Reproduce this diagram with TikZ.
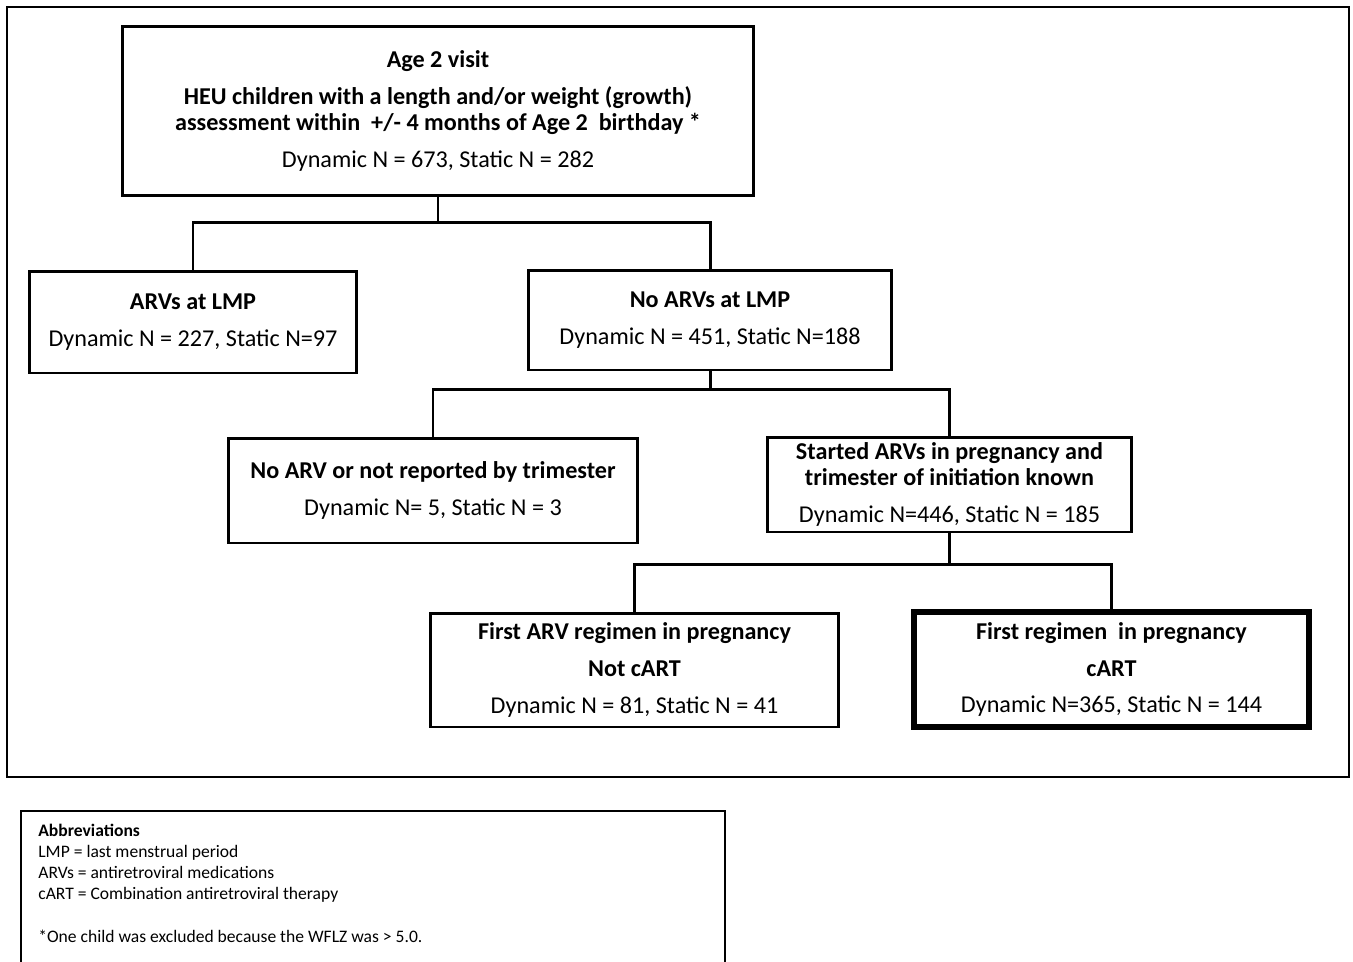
\documentclass[tikz,border=0pt]{standalone}
\usepackage{fontspec}
\setmainfont{Carlito}

\tikzset{
  flowbox/.style={draw, line width=1.7pt, align=center, inner sep=0pt,
    font=\fontsize{13.75}{14.8}\selectfont},
  link/.style={line width=1.7pt},
}

\begin{document}
\begin{tikzpicture}[x=0.02cm,y=-0.02cm]
\useasboundingbox (0,0) rectangle (1353,961);
% outer frame
\draw[line width=1.1pt] (7,7) rectangle (1349,777);

% boxes
\node[flowbox, minimum width=12.64cm, minimum height=3.4cm] (visit) at (438,111)
  {\textbf{Age 2 visit}\\[6pt]
   \textbf{HEU children with a length and/or weight (growth)}\\
   \textbf{assessment within\ \ +/- 4 months of Age 2\ \ birthday *}\\[6pt]
   Dynamic N = 673, Static N = 282};
\node[flowbox, minimum width=6.56cm, minimum height=2.04cm] (lmp) at (193,322)
  {\textbf{ARVs at LMP}\\[6pt] Dynamic N = 227, Static N=97};
\node[flowbox, minimum width=7.28cm, minimum height=2cm] (nolmp) at (710,320)
  {\textbf{No ARVs at LMP}\\[6pt] Dynamic N = 451, Static N=188};
\node[flowbox, minimum width=8.2cm, minimum height=2.1cm] (notrep) at (433,490.5)
  {\textbf{No ARV or not reported by trimester}\\[6pt] Dynamic N= 5, Static N = 3};
\node[flowbox, minimum width=7.3cm, minimum height=1.9cm] (started) at (949.5,484.5)
  {\textbf{Started ARVs in pregnancy and}\\
   \textbf{trimester of initiation known}\\[6pt]
   Dynamic N=446, Static N = 185};
\node[flowbox, minimum width=8.18cm, minimum height=2.28cm] (notcart) at (634.5,670)
  {\textbf{First ARV regimen in pregnancy}\\[6pt]
   \textbf{Not cART}\\[6pt]
   Dynamic N = 81, Static N = 41};
\node[flowbox, line width=3.6pt, minimum width=7.9cm, minimum height=2.3cm] (cart) at (1111.5,669.5)
  {\textbf{First regimen\ \ in pregnancy}\\[6pt]
   \textbf{cART}\\[6pt]
   Dynamic N=365, Static N = 144};

% connectors
\coordinate (j1) at (438,222);
\coordinate (j2) at (710,389);
\coordinate (j3) at (949.5,564);
\draw[link] (visit.south) -- (j1);
\draw[link] (j1) -| (lmp.north);
\draw[link] (j1) -| (nolmp.north);
\draw[link] (nolmp.south) -- (j2);
\draw[link] (j2) -| (notrep.north);
\draw[link] (j2) -| (started.north);
\draw[link] (started.south) -- (j3);
\draw[link] (j3) -| (notcart.north);
\draw[link] (j3) -| (cart.north);

% abbreviations
\draw[line width=1.1pt] (21,990) |- (725,811) -- (725,990);
\node[anchor=north west, inner sep=0pt, align=left,
  font=\fontsize{10}{12}\selectfont] (abbr) at (38,824)
  {\textbf{Abbreviations}\\
   LMP = last menstrual period\\
   ARVs = antiretroviral medications\\
   cART = Combination antiretroviral therapy\\[12pt]
   *One child was excluded because the WFLZ was > 5.0.};
\end{tikzpicture}
\end{document}
